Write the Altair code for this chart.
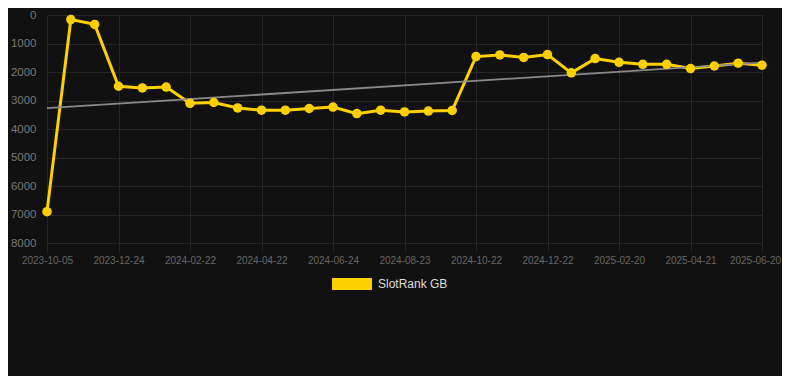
import altair as alt
import pandas as pd

dates = [
    "2023-10-05", "2023-10-31", "2023-11-27", "2023-12-24", "2024-01-13",
    "2024-02-02", "2024-02-22", "2024-03-13", "2024-04-02", "2024-04-22",
    "2024-05-13", "2024-06-03", "2024-06-24", "2024-07-14", "2024-08-03",
    "2024-08-23", "2024-09-12", "2024-10-02", "2024-10-22", "2024-11-11",
    "2024-12-01", "2024-12-22", "2025-01-11", "2025-01-31", "2025-02-20",
    "2025-03-12", "2025-04-01", "2025-04-21", "2025-05-11", "2025-05-31",
    "2025-06-20",
]
ranks = [
    6900, 160, 330, 2500, 2560, 2530, 3100, 3070, 3260, 3340,
    3340, 3280, 3230, 3460, 3340, 3400, 3370, 3350, 1460, 1400,
    1490, 1390, 2030, 1530, 1660, 1730, 1730, 1880, 1790, 1690,
    1760,
]
tick_labels = [
    "2023-10-05", "2023-12-24", "2024-02-22", "2024-04-22", "2024-06-24",
    "2024-08-23", "2024-10-22", "2024-12-22", "2025-02-20", "2025-04-21",
    "2025-06-20",
]
y_ticks = [0, 1000, 2000, 3000, 4000, 5000, 6000, 7000, 8000]
trend_dates = ["2023-10-05", "2025-06-20"]
trend_values = [3270, 1670]
series_name = "SlotRank GB"

df = pd.DataFrame({"date": dates, "rank": ranks, "series": series_name})
trend_df = pd.DataFrame({"date": trend_dates, "rank": trend_values})

GRID = "#262626"
YELLOW = "#FFD000"

x_enc = alt.X(
    "date:O",
    sort=dates,
    scale=alt.Scale(type="point", domain=dates, range=[9, 724], padding=0),
    axis=alt.Axis(
        values=tick_labels, title=None, labelAngle=0, grid=True,
        gridColor=GRID, tickColor=GRID, tickSize=8, labelPadding=4,
        labelColor="#666666", labelFontSize=10, labelFont="Liberation Sans",
        domain=False, labelOverlap=False,
        labelOffset={"condition": {"test": f"datum.value === '{dates[-1]}'", "value": -7},
                     "value": 0},
    ),
)
y_enc = alt.Y(
    "rank:Q",
    scale=alt.Scale(domain=[0, 8000], reverse=True, nice=False, zero=False),
    axis=alt.Axis(
        values=y_ticks, tickCount=9,
        title=None, grid=True, gridColor=GRID, ticks=False, domain=False,
        labelPadding=2, labelColor="#777777", labelFontSize=11.5,
        labelFont="Liberation Sans", format="d", labelOverlap=False,
    ),
)

trend = alt.Chart(trend_df).mark_line(color="#8a8a8a", strokeWidth=1.8).encode(
    x=x_enc, y=y_enc
)
line = alt.Chart(df).mark_line(color=YELLOW, strokeWidth=3).encode(x=x_enc, y=y_enc)
points = alt.Chart(df).mark_circle(size=90, opacity=1).encode(
    x=x_enc,
    y=y_enc,
    color=alt.Color(
        "series:N",
        scale=alt.Scale(range=[YELLOW]),
        legend=alt.Legend(
            title=None, orient="none", legendX=294, legendY=249,
            symbolType="M-1,-0.3H1V0.3H-1Z", symbolSize=1600,
            symbolStrokeWidth=0, labelColor="#dddddd", labelFontSize=12,
            labelFont="Liberation Sans", labelOffset=6,
        ),
    ),
)

chart = (
    alt.layer(line, trend, points)
    .properties(
        width=744, height=228,
        autosize=alt.AutoSizeParams(type="none"),
        padding={"left": 30, "top": 7, "right": 0, "bottom": 133},
    )
    .configure(background="#111111")
    .configure_view(stroke=None)
)

chart.save("out.html", embed_options={"renderer": "svg", "actions": False})
